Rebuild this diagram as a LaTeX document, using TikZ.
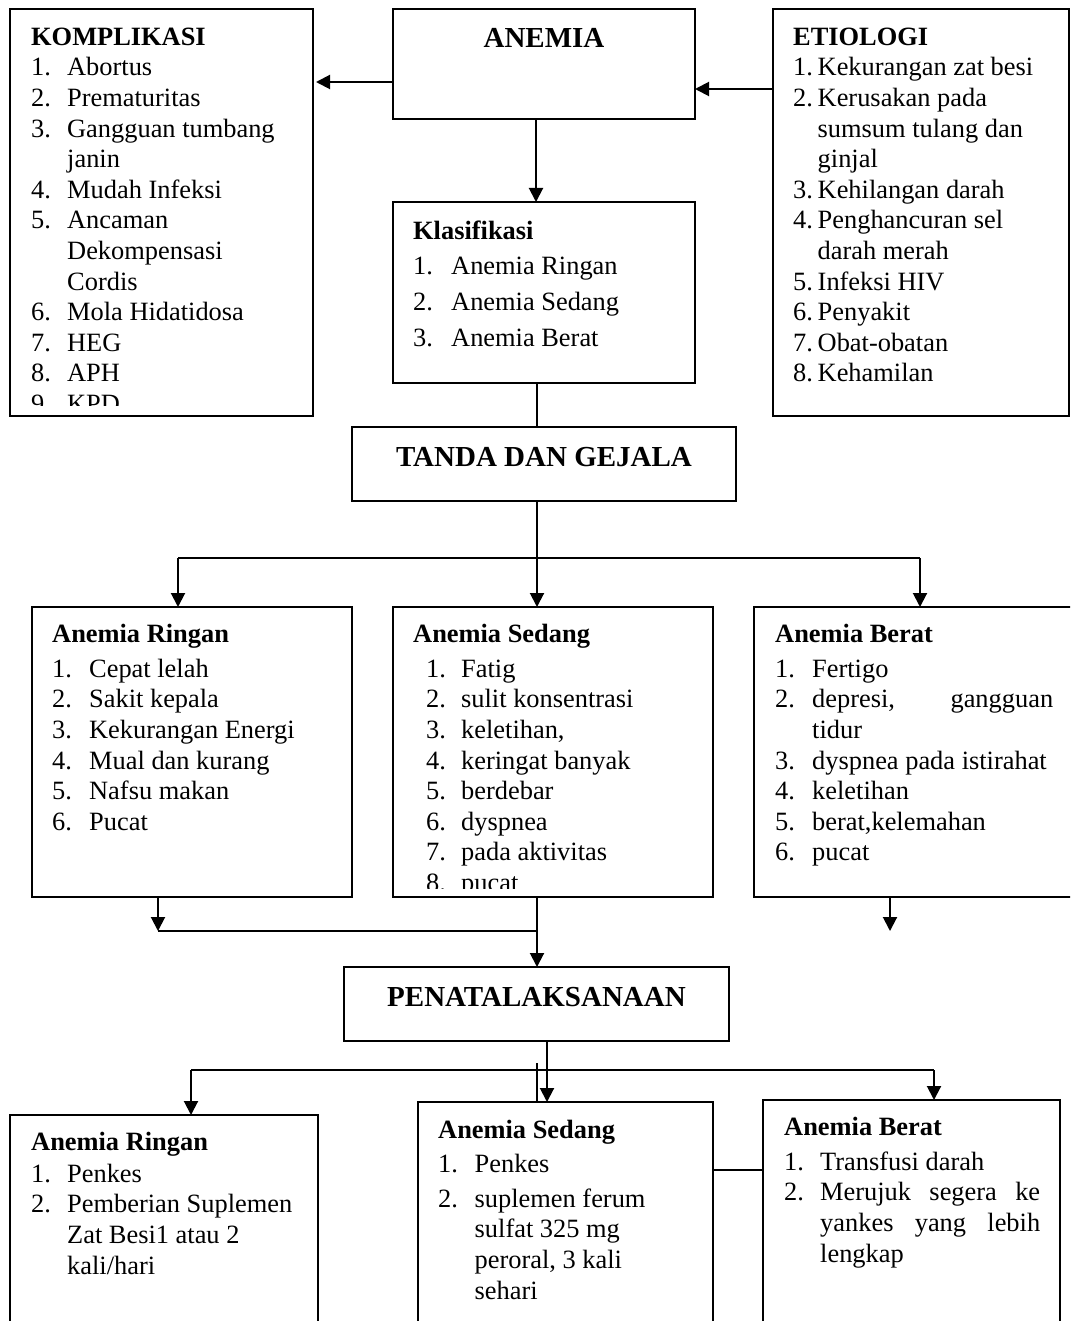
\documentclass[tikz,border=0pt]{standalone}
\usepackage{fontspec}
\setmainfont{Liberation Serif}
\usetikzlibrary{arrows.meta}
\tikzset{>={Triangle[width=14pt,length=14pt]}}
\newcommand{\bodyfont}{\fontsize{26.4}{30.6}\selectfont}
\newcommand{\headfont}{\fontsize{29}{34}\selectfont\bfseries}
\newcommand{\itemno}[2][36pt]{\makebox[#1][l]{#2}}

\begin{document}
\begin{tikzpicture}[x=1pt,y=-1pt,font=\bodyfont]
\tikzstyle{box}=[draw,line width=1.6pt,inner sep=0,outer sep=0,anchor=north west]
\tikzstyle{txt}=[inner sep=0,anchor=north west,align=left]
\tikzstyle{head}=[inner sep=0,anchor=base,font=\headfont]
\tikzstyle{arr}=[->,line width=2pt]
\tikzstyle{ln}=[line width=1.4pt]

\useasboundingbox (0,0) rectangle (1070,1321);
\clip (0,0) rectangle (1070,1321);

    % boxes
    \node[box,minimum width=303pt,minimum height=407pt] (komplikasi) at (10,9) {};
    \node[box,minimum width=302pt,minimum height=110pt] (anemia) at (393,9) {};
    \node[box,minimum width=296pt,minimum height=407pt] (etiologi) at (773,9) {};
    \node[box,minimum width=302pt,minimum height=181pt] (klasifikasi) at (393,202) {};
    \node[box,minimum width=384pt,minimum height=74pt] (tanda) at (352,427) {};
    \node[box,minimum width=320pt,minimum height=290pt] (ringan) at (32,607) {};
    \node[box,minimum width=320pt,minimum height=290pt] (sedang) at (393,607) {};
    \node[box,minimum width=330pt,minimum height=290pt] (berat) at (754,607) {};
    \node[box,minimum width=385pt,minimum height=74pt] (penata) at (344,967) {};
    \node[box,minimum width=308pt,minimum height=230pt] (ringan2) at (10,1115) {};
    \node[box,minimum width=295pt,minimum height=240pt] (sedang2) at (418,1102) {};
    \node[box,minimum width=297pt,minimum height=240pt] (berat2) at (763,1100) {};

    % texts
    \node[head] (anemiatxt) at ([yshift=-39pt]anemia.north) {ANEMIA};
    \node[head] (tandatxt) at ([yshift=-39pt]tanda.north) {TANDA DAN GEJALA};
    \node[head] (penatatxt) at ([yshift=-39pt]penata.north) {PENATALAKSANAAN};

    \begin{scope}
    \clip ([yshift=11pt]komplikasi.south west) rectangle (komplikasi.north east);
    \node[txt] (komplikasitxt) at (31,23.6) {\strut\textbf{KOMPLIKASI}\\
      \itemno{1.}Abortus\\
      \itemno{2.}Prematuritas\\
      \itemno{3.}Gangguan tumbang\\
      \itemno{}janin\\
      \itemno{4.}Mudah Infeksi\\
      \itemno{5.}Ancaman\\
      \itemno{}Dekompensasi\\
      \itemno{}Cordis\\
      \itemno{6.}Mola Hidatidosa\\
      \itemno{7.}HEG\\
      \itemno{8.}APH\\
      \itemno{9.}KPD};
    \end{scope}

    \node[txt] (etiologitxt) at (793,23.6) {\strut\textbf{ETIOLOGI}\\
      \itemno[24.5pt]{1.}Kekurangan zat besi\\
      \itemno[24.5pt]{2.}Kerusakan pada\\
      \itemno[24.5pt]{}sumsum tulang dan\\
      \itemno[24.5pt]{}ginjal\\
      \itemno[24.5pt]{3.}Kehilangan darah\\
      \itemno[24.5pt]{4.}Penghancuran sel\\
      \itemno[24.5pt]{}darah merah\\
      \itemno[24.5pt]{5.}Infeksi HIV\\
      \itemno[24.5pt]{6.}Penyakit\\
      \itemno[24.5pt]{7.}Obat-obatan\\
      \itemno[24.5pt]{8.}Kehamilan};

    \node[txt] (klasifikasitxt) at (413,217.6) {\strut\textbf{Klasifikasi}\\[5pt]
      \itemno[38pt]{1.}Anemia Ringan\\[5pt]
      \itemno[38pt]{2.}Anemia Sedang\\[5pt]
      \itemno[38pt]{3.}Anemia Berat};

    \node[txt] (ringantxt) at (52,620.6) {\strut\textbf{Anemia Ringan}\\[4.4pt]
      \itemno[37pt]{1.}Cepat lelah\\
      \itemno[37pt]{2.}Sakit kepala\\
      \itemno[37pt]{3.}Kekurangan Energi\\
      \itemno[37pt]{4.}Mual dan kurang\\
      \itemno[37pt]{5.}Nafsu makan\\
      \itemno[37pt]{6.}Pucat};

    \begin{scope}
    \clip ([yshift=9pt]sedang.south west) rectangle (sedang.north east);
    \node[txt] (sedangtxt) at (413,620.6) {\strut\textbf{Anemia Sedang}\\[4.4pt]
      \hspace*{13pt}\itemno[35pt]{1.}Fatig\\
      \hspace*{13pt}\itemno[35pt]{2.}sulit konsentrasi\\
      \hspace*{13pt}\itemno[35pt]{3.}keletihan,\\
      \hspace*{13pt}\itemno[35pt]{4.}keringat banyak\\
      \hspace*{13pt}\itemno[35pt]{5.}berdebar\\
      \hspace*{13pt}\itemno[35pt]{6.}dyspnea\\
      \hspace*{13pt}\itemno[35pt]{7.}pada aktivitas\\
      \hspace*{13pt}\itemno[35pt]{8.}pucat};
    \end{scope}

    \node[txt] (berattxt) at (775,620.6) {\strut\textbf{Anemia Berat}\\[4.4pt]
      \itemno[37pt]{1.}Fertigo\\
      \itemno[37pt]{2.}\makebox[241pt][s]{depresi, gangguan}\\
      \itemno[37pt]{}tidur\\
      \itemno[37pt]{3.}dyspnea pada istirahat\\
      \itemno[37pt]{4.}keletihan\\
      \itemno[37pt]{5.}berat,kelemahan\\
      \itemno[37pt]{6.}pucat};

    \node[txt] (ringan2txt) at (31,1128.6) {\strut\textbf{Anemia Ringan}\\[1.5pt]
      \itemno{1.}Penkes\\
      \itemno{2.}Pemberian Suplemen\\
      \itemno{}Zat Besi1 atau 2\\
      \itemno{}kali/hari};

    \node[txt] (sedang2txt) at (438,1116.6) {\strut\textbf{Anemia Sedang}\\[3.4pt]
      \itemno[36.5pt]{1.}Penkes\\[4.4pt]
      \itemno[36.5pt]{2.}suplemen ferum\\
      \itemno[36.5pt]{}sulfat 325 mg\\
      \itemno[36.5pt]{}peroral, 3 kali\\
      \itemno[36.5pt]{}sehari};

    \node[txt] (berat2txt) at (784,1113.6) {\strut\textbf{Anemia Berat}\\[4.4pt]
      \itemno{1.}Transfusi darah\\
      \itemno{2.}\makebox[220pt][s]{Merujuk segera ke}\\
      \itemno{}\makebox[220pt][s]{yankes yang lebih}\\
      \itemno{}lengkap};

    % connectors top
    \coordinate (a1) at ([yshift=-18pt]anemia.west);
    \coordinate (a2) at ([yshift=-25pt]anemia.east);
    \coordinate (a3) at ([xshift=-8pt]anemia.south);
    \coordinate (a4) at ([xshift=-7pt]klasifikasi.south);
    \draw[arr,shorten >=3pt] (a1) -- (a1 -| komplikasi.east);
    \draw[arr] (a2 -| etiologi.west) -- (a2);
    \draw[arr] (a3) -- (a3 |- klasifikasi.north);
    \draw[ln] (a4) -- (a4 |- tanda.north);

    % tanda dan gejala
    \coordinate (b0) at (537,558);
    \coordinate (b1) at (178,558);
    \coordinate (b2) at (920,558);
    \draw[ln] (b0 |- tanda.south) -- (b0);
    \draw[ln] (b1) -- (b2);
    \draw[arr] (b1) -- (b1 |- ringan.north);
    \draw[arr] (b0) -- (b0 |- sedang.north);
    \draw[arr] (b2) -- (b2 |- berat.north);

    % to penatalaksanaan
    \coordinate (c0) at (537,931);
    \coordinate (c1) at (158,931);
    \coordinate (c2) at (890,931);
    \draw[arr] (c1 |- ringan.south) -- (c1);
    \draw[ln] (c1) -- (c0);
    \draw[ln] (c0 |- sedang.south) -- (c0);
    \draw[arr] (c0) -- (c0 |- penata.north);
    \draw[arr] (c2 |- berat.south) -- (c2);

    % penatalaksanaan
    \coordinate (d0) at ([xshift=10.5pt]penata.south);
    \coordinate (d1) at (191,1070);
    \coordinate (d2) at (934,1070);
    \coordinate (d3) at (537,1063);
    \coordinate (d4) at (713,1170);
    \draw[arr] (d0) -- (d0 |- sedang2.north);
    \draw[ln] (d1) -- (d2);
    \draw[arr] (d1) -- (d1 |- ringan2.north);
    \draw[arr] (d2) -- (d2 |- berat2.north);
    \draw[ln] (d3) -- (d3 |- sedang2.north);
    \draw[ln] (d4) -- (d4 -| berat2.west);

\end{tikzpicture}
\end{document}
